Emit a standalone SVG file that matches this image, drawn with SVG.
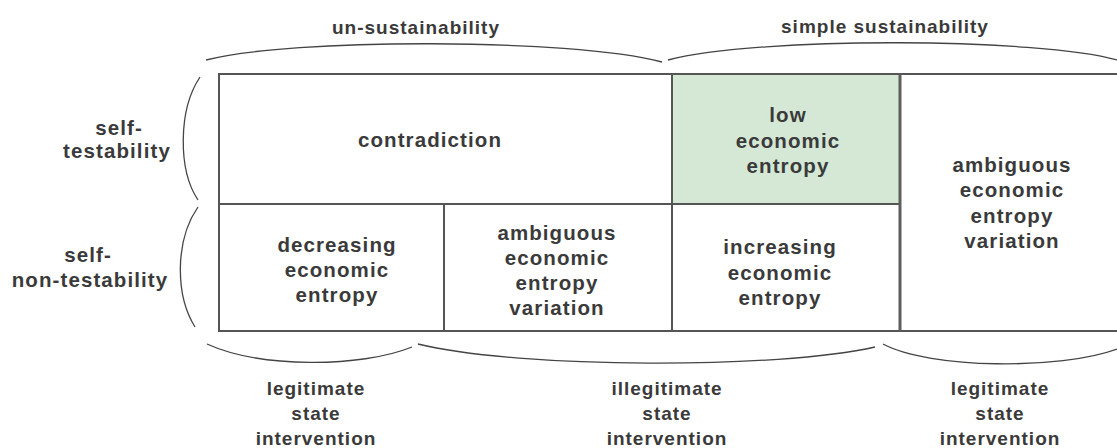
<svg xmlns="http://www.w3.org/2000/svg" width="1117" height="448" viewBox="0 0 1117 448">
<style>
  .t { font-family: "Liberation Sans", Arial, sans-serif; font-size: 19px; font-weight: bold; fill: #3a3a3a; text-anchor: middle; letter-spacing: 1px; }
  .c { font-size: 20.5px; letter-spacing: 1.1px; }
  .grid { stroke: #555; stroke-width: 2; fill: none; }
  .brace { stroke: #444; stroke-width: 1.3; fill: none; }
</style>
<rect width="1117" height="448" fill="#ffffff"/>
<g id="cell-low-entropy">
  <rect x="672" y="74" width="227" height="130" fill="#d5e8d5"/>
  <text class="t c" x="788" y="122">low</text>
  <text class="t c" x="788" y="148">economic</text>
  <text class="t c" x="788" y="173">entropy</text>
</g>
<g id="grid">
  <path class="grid" d="M219,331 L219,74 L1117,74"/>
  <path class="grid" d="M218,331 L1117,331"/>
  <path class="grid" d="M218,204 L899,204"/>
  <path class="grid" d="M444,204 L444,331"/>
  <path class="grid" d="M672,74 L672,331"/>
  <path d="M900,74 L900,331" stroke="#5e5e5e" stroke-width="3" fill="none"/>
</g>
<g id="cell-contradiction">
  <text class="t c" x="430" y="147">contradiction</text>
</g>
<g id="cell-decreasing">
  <text class="t c" x="337" y="252">decreasing</text>
  <text class="t c" x="337" y="277">economic</text>
  <text class="t c" x="337" y="302">entropy</text>
</g>
<g id="cell-ambiguous-mid">
  <text class="t c" x="557" y="240">ambiguous</text>
  <text class="t c" x="557" y="265">economic</text>
  <text class="t c" x="557" y="290">entropy</text>
  <text class="t c" x="557" y="315">variation</text>
</g>
<g id="cell-increasing">
  <text class="t c" x="780" y="254">increasing</text>
  <text class="t c" x="780" y="280">economic</text>
  <text class="t c" x="780" y="305">entropy</text>
</g>
<g id="cell-ambiguous-right">
  <text class="t c" x="1012" y="172">ambiguous</text>
  <text class="t c" x="1012" y="197">economic</text>
  <text class="t c" x="1012" y="223">entropy</text>
  <text class="t c" x="1012" y="248">variation</text>
</g>
<g id="connectors">
  <path class="brace" d="M206,60 C290,38 570,38 662,62"/>
  <path class="brace" d="M668,60 C760,36 1040,38 1117,60"/>
  <path class="brace" d="M200,77 C178,110 178,170 198,200"/>
  <path class="brace" d="M198,207 C175,240 175,295 195,327"/>
  <path class="brace" d="M207,344 C260,368 360,368 412,347"/>
  <path class="brace" d="M418,344 C520,369 780,369 875,347"/>
  <path class="brace" d="M883,344 C930,369 1060,370 1117,349"/>
</g>
<g id="label-unsustainability"><text class="t" x="416" y="34">un-sustainability</text></g>
<g id="label-simple-sustainability"><text class="t" x="885" y="33">simple sustainability</text></g>
<g id="label-self-testability">
  <text class="t c" x="119" y="135">self-</text>
  <text class="t c" x="117" y="158">testability</text>
</g>
<g id="label-self-non-testability">
  <text class="t c" x="88" y="262">self-</text>
  <text class="t c" x="90" y="287">non-testability</text>
</g>
<g id="label-legitimate-left">
  <text class="t" x="316" y="395">legitimate</text>
  <text class="t" x="316" y="420">state</text>
  <text class="t" x="316" y="445">intervention</text>
</g>
<g id="label-illegitimate">
  <text class="t" x="667" y="395">illegitimate</text>
  <text class="t" x="667" y="420">state</text>
  <text class="t" x="667" y="445">intervention</text>
</g>
<g id="label-legitimate-right">
  <text class="t" x="1000" y="395">legitimate</text>
  <text class="t" x="1000" y="420">state</text>
  <text class="t" x="1000" y="445">intervention</text>
</g>
</svg>
